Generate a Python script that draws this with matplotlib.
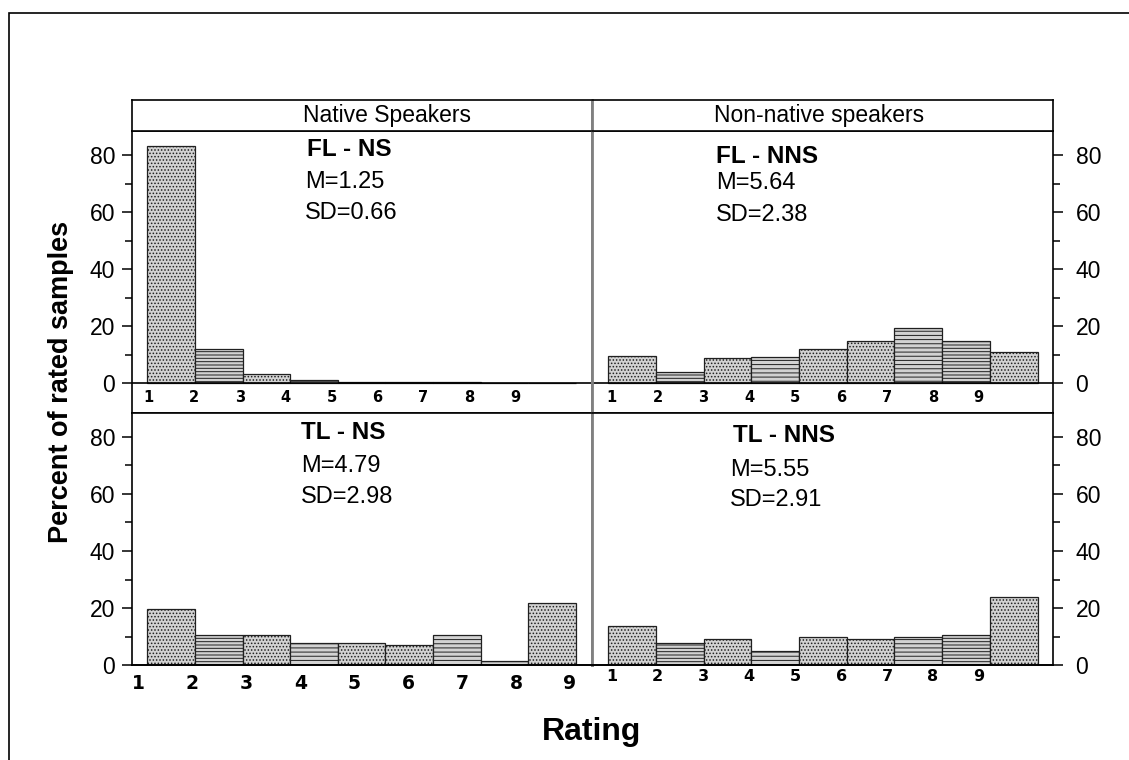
import numpy as np
import matplotlib
matplotlib.use("Agg")
import matplotlib.pyplot as plt
from matplotlib.patches import Rectangle

plt.rcParams['font.family'] = ['Liberation Sans', 'DejaVu Sans']
plt.rcParams['hatch.linewidth'] = 0.7
plt.rcParams['hatch.color'] = '#383838'

# ratings 1..9 (bin left edges)
ratings = np.arange(1, 10)
tick_labels = [str(r) for r in ratings]

# percent of rated samples per rating
fl_ns = [83.0, 12.0, 3.4, 1.1, 0.5, 0.4, 0.3, 0.15, 0.15]
fl_nns = [9.5, 4.1, 8.8, 9.1, 11.9, 14.7, 19.3, 14.7, 10.9]
tl_ns = [19.8, 10.7, 10.7, 7.9, 7.9, 7.2, 10.7, 1.6, 21.7]
tl_nns = [13.9, 7.9, 9.1, 4.9, 10.0, 9.1, 10.0, 10.7, 23.8]

col_titles = ["Native Speakers", "Non-native speakers"]
panel_titles = ["FL - NS", "FL - NNS", "TL - NS", "TL - NNS"]
panel_stats = [("M=1.25", "SD=0.66"), ("M=5.64", "SD=2.38"),
               ("M=4.79", "SD=2.98"), ("M=5.55", "SD=2.91")]

W, H = 1129, 760
fig = plt.figure(figsize=(W / 100, H / 100), dpi=100)


def box(x0, y0, x1, y1):
    # pixel box (top-left origin) -> figure fraction rect
    return [x0 / W, 1 - y1 / H, (x1 - x0) / W, (y1 - y0) / H]


# outer frame
fig.patches.append(Rectangle((9.3 / W, -0.1), 2.0, 1 - 13.3 / H + 0.1,
                             transform=fig.transFigure, fill=False,
                             edgecolor='black', linewidth=1.2))

xl, xm, xr = 131.7, 591.7, 1053.3
y_head, y_top, y_mid, y_bot = 100.0, 131.3, 412.7, 665.3
gray = '#808080'
tick_font = ['DejaVu Sans']

hatches = ['.....', '-----', '.....', '----', '.....', '.....', '----', '-----', '.....']

ax_tl = fig.add_axes(box(xl, y_top, xm, y_mid))
ax_tr = fig.add_axes(box(xm, y_top, xr, y_mid))
ax_bl = fig.add_axes(box(xl, y_mid, xm, y_bot))
ax_br = fig.add_axes(box(xm, y_mid, xr, y_bot))

panels = [(ax_tl, fl_ns, 'left', 'top'), (ax_tr, fl_nns, 'right', 'top'),
          (ax_bl, tl_ns, 'left', 'bot'), (ax_br, tl_nns, 'right', 'bot')]

top_ymin = -(y_mid - 383.3) / 2.854
top_ymax = (383.3 - y_top) / 2.854
bot_ymax = (y_bot - y_mid) / 2.858

for ax, vals, side, row in panels:
    bars = ax.bar(ratings, vals, width=1.0, align='edge', facecolor='#d2d2d2',
                  edgecolor='#202020', linewidth=0.9)
    for b, h in zip(bars, hatches):
        b.set_hatch(h)
    ax.set_xlim(0.672 if side == 'left' else 0.651, 10.33)
    if row == 'top':
        ax.set_ylim(top_ymin, top_ymax)
        ax.axhline(0, color='black', linewidth=1.2)
    else:
        ax.set_ylim(0, bot_ymax)
    ax.set_yticks([0, 20, 40, 60, 80])
    ax.set_yticks([10, 30, 50, 70], minor=True)
    ax.tick_params(axis='y', which='major', length=7, width=1.1, labelsize=16.5,
                   pad=5 if side == 'left' else 9)
    ax.tick_params(axis='y', which='minor', length=5, width=1.1)
    ax.set_xticks([])
    if side == 'right':
        ax.yaxis.tick_right()
        ax.spines['left'].set_color(gray)
        ax.spines['left'].set_linewidth(2)
    else:
        ax.spines['right'].set_color(gray)
        ax.spines['right'].set_linewidth(2)
    for s in ['top', 'bottom'] + (['left'] if side == 'left' else ['right']):
        ax.spines[s].set_linewidth(1.2)
        ax.spines[s].set_color('black')
    if row == 'bot':
        ax.spines['bottom'].set_linewidth(1.4)

# x tick labels (placed like the original export, slightly off the bin edges)
lab_pos = {
    'tl': 1.02 + 0.962 * np.arange(9),
    'tr': 1.07 + 0.962 * np.arange(9),
    'bl': 0.811 + 1.133 * np.arange(9),
    'br': 1.07 + 0.962 * np.arange(9),
}
for key, ax in [('tl', ax_tl), ('tr', ax_tr)]:
    for xp, lab in zip(lab_pos[key], tick_labels):
        ax.text(xp, top_ymin / 2, lab, ha='center', va='center',
                fontsize=10.5, fontweight='bold', family=tick_font)
for key, ax, size, yoff in [('bl', ax_bl, 13.5, -0.071), ('br', ax_br, 11.5, -0.045)]:
    for xp, lab in zip(lab_pos[key], tick_labels):
        ax.text(xp, yoff, lab, ha='center', va='center', fontsize=size,
                fontweight='bold', family=tick_font,
                transform=ax.get_xaxis_transform())

# panel annotations
ann = [
    (ax_tl, 0.381, 0.937, 0.377, 0.821, 0.710),
    (ax_tr, 0.269, 0.910, 0.269, 0.815, 0.703),
    (ax_bl, 0.368, 0.922, 0.368, 0.790, 0.665),
    (ax_br, 0.307, 0.909, 0.300, 0.773, 0.654),
]
for (ax, tx, ty, sx, my, sy), title, (m, sd) in zip(ann, panel_titles, panel_stats):
    ax.text(tx, ty, title, transform=ax.transAxes, ha='left', va='center',
            fontsize=17.5, fontweight='bold')
    ax.text(sx, my, m, transform=ax.transAxes, ha='left', va='center', fontsize=17)
    ax.text(sx, sy, sd, transform=ax.transAxes, ha='left', va='center', fontsize=17)

# column headers
for x0, x1, title, cx in [(xl, xm, col_titles[0], 387.0), (xm, xr, col_titles[1], 818.7)]:
    hax = fig.add_axes(box(x0, y_head, x1, y_top))
    hax.set_xticks([])
    hax.set_yticks([])
    for s in hax.spines.values():
        s.set_linewidth(1.2)
    if x0 == xl:
        hax.spines['right'].set_color(gray)
        hax.spines['right'].set_linewidth(2)
    else:
        hax.spines['left'].set_color(gray)
        hax.spines['left'].set_linewidth(2)
    hax.text((cx - x0) / (x1 - x0), 0.5, title, transform=hax.transAxes,
             ha='center', va='center', fontsize=16.5)

fig.text(591.7 / W, 1 - 731.7 / H, "Rating", ha='center', va='center',
         fontsize=23, fontweight='bold')
fig.text(61 / W, 1 - 382 / H, "Percent of rated samples", ha='center',
         va='center', rotation=90, fontsize=19.5, fontweight='bold')

fig.savefig("out.png", dpi=100)
